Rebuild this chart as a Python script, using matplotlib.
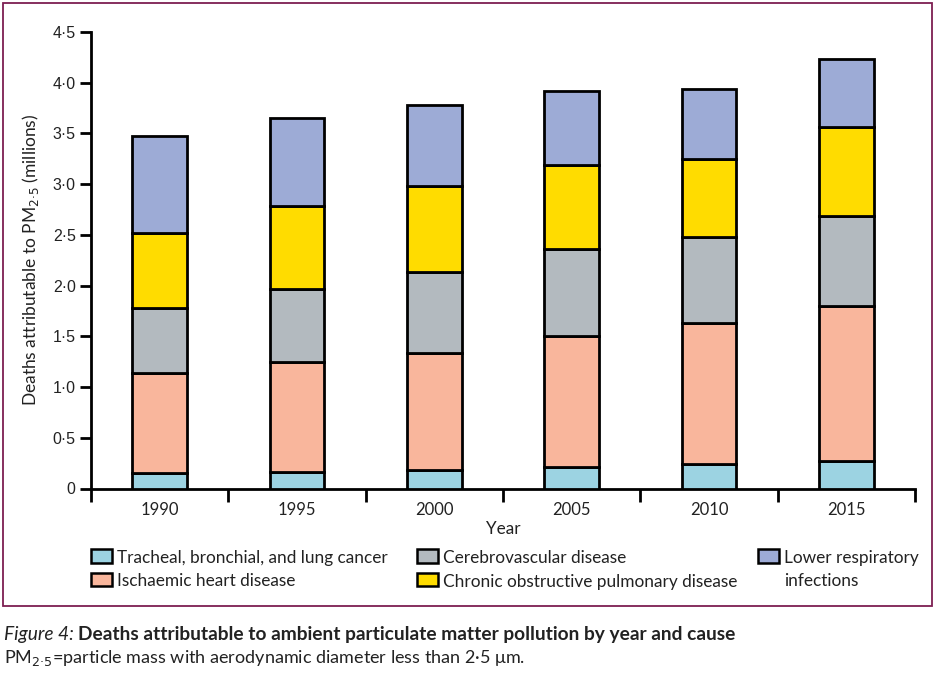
import matplotlib

matplotlib.use("Agg")

import matplotlib.pyplot as plt
import numpy as np
from matplotlib.patches import Rectangle

years = ["1990", "1995", "2000", "2005", "2010", "2015"]
causes = [
    "Tracheal, bronchial, and lung cancer",
    "Ischaemic heart disease",
    "Cerebrovascular disease",
    "Chronic obstructive pulmonary disease",
    "Lower respiratory\ninfections",
]
# deaths in millions, stacked bottom to top
lung_cancer = [0.15, 0.165, 0.185, 0.215, 0.24, 0.27]
ischaemic = [0.99, 1.085, 1.155, 1.285, 1.39, 1.53]
cerebro = [0.64, 0.72, 0.79, 0.86, 0.85, 0.89]
copd = [0.74, 0.81, 0.85, 0.83, 0.77, 0.87]
lower_resp = [0.95, 0.87, 0.80, 0.73, 0.69, 0.67]
yticks = [0, 0.5, 1.0, 1.5, 2.0, 2.5, 3.0, 3.5, 4.0, 4.5]
ytick_labels = ["0", "0·5", "1·0", "1·5", "2·0", "2·5", "3·0", "3·5", "4·0", "4·5"]

colors = ["#9cd3e2", "#f9b69c", "#b3babf", "#ffdc00", "#9dabd6"]
series = [lung_cancer, ischaemic, cerebro, copd, lower_resp]

W, H = 936, 674
fig = plt.figure(figsize=(W / 100, H / 100), dpi=100)
FONT = ["Lato", "DejaVu Sans"]
NARROW = ["Liberation Sans Narrow", "Liberation Sans", "DejaVu Sans"]
TXT = "#222222"


def px(x, y):
    # pixel position (from top-left) -> figure fraction
    return x / W, 1 - y / H


# frame around the chart
fig.patches.append(
    Rectangle(px(3, 606), 929 / W, 603 / H, transform=fig.transFigure,
              fill=False, edgecolor="#7d1f52", linewidth=1.3)
)

ax = fig.add_axes([91 / W, 1 - 488.5 / H, 824 / W, (488.5 - 32) / H])
x = np.arange(len(years))
bottom = np.zeros(len(years))
for vals, col in zip(series, colors):
    ax.bar(x, vals, bottom=bottom, width=0.40, color=col, edgecolor="black", linewidth=2.0, zorder=3)
    bottom += np.asarray(vals)

ax.set_xlim(-0.5, len(years) - 0.5)
ax.set_ylim(0, 4.5)
ax.spines["top"].set_visible(False)
ax.spines["right"].set_visible(False)
for s in ("left", "bottom"):
    ax.spines[s].set_linewidth(2.0)

ax.set_yticks(yticks)
ax.set_yticklabels(ytick_labels, family=NARROW, fontsize=11.5, color=TXT)
ax.tick_params(axis="y", length=8, width=2.0, pad=3)

ax.set_xticks(x)
ax.set_xticklabels(years, family=FONT, fontsize=12, color=TXT)
ax.set_xticks(np.arange(len(years) + 1) - 0.5, minor=True)
ax.tick_params(axis="x", which="major", length=0, pad=10)
ax.tick_params(axis="x", which="minor", length=9, width=2.0, direction="out")

ax.set_xlabel("Year", family=FONT, fontsize=12.3, color=TXT, labelpad=2)
ax.set_ylabel("Deaths attributable to PM$_{2·5}$ (millions)", family=FONT, fontsize=12.5,
              color=TXT, labelpad=8)

# legend: three columns, handle aligned with the first text line
col_x = [91, 417, 758]
row_base = [563, 586.5]
slots = [(0, 0), (0, 1), (1, 0), (1, 1), (2, 0)]
for (ci, ri), label, col in zip(slots, causes, colors):
    hx, base = col_x[ci], row_base[ri]
    fig.patches.append(
        Rectangle(px(hx, base - 0.5), 21 / W, 13.5 / H, transform=fig.transFigure,
                  facecolor=col, edgecolor="black", linewidth=1.8)
    )
    for li, line in enumerate(label.split("\n")):
        fig.text(*px(hx + 26, base + li * 23.5), line, family=FONT, fontsize=12.4,
                 color=TXT, va="baseline")

# caption
fig.canvas.draw()
t1 = fig.text(*px(4, 640), "Figure 4:", family=FONT, style="italic", fontsize=13.8,
              color=TXT, va="baseline")
bb = t1.get_window_extent(fig.canvas.get_renderer())
fig.text(bb.x1 / W + 4 / W, 1 - 640 / H,
         "Deaths attributable to ambient particulate matter pollution by year and cause",
         family=FONT, weight="bold", fontsize=13.8, color=TXT, va="baseline")
fig.text(*px(4, 663), "PM$_{2·5}$=particle mass with aerodynamic diameter less than 2·5 μm.",
         family=FONT, fontsize=13, color=TXT, va="baseline")

fig.savefig("out.png", dpi=100)
